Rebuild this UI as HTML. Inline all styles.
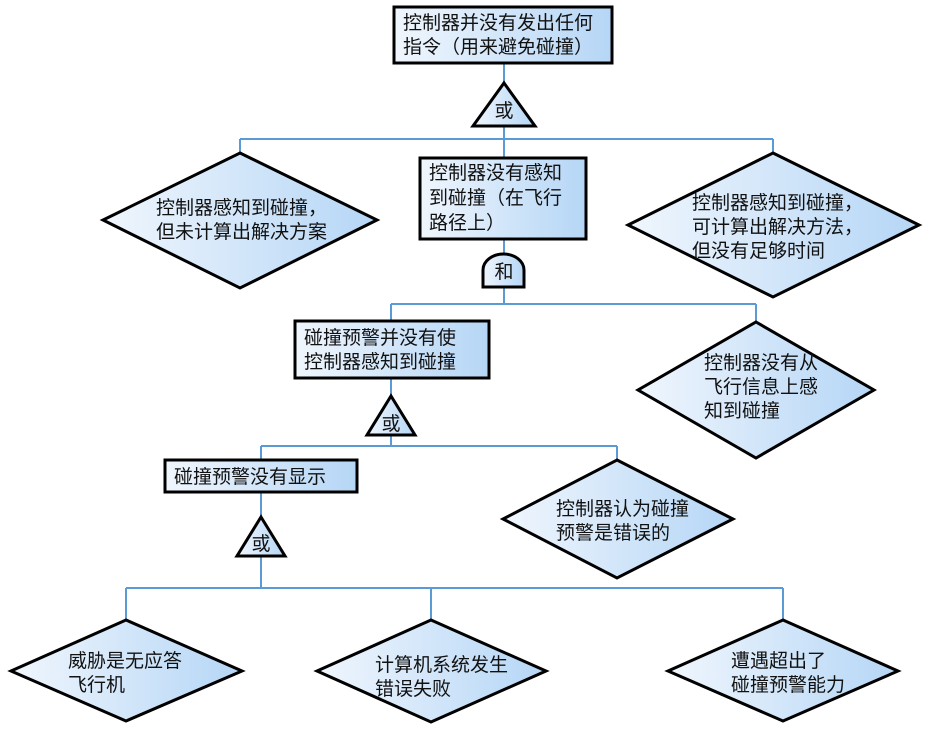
<!DOCTYPE html>
<html><head><meta charset="utf-8"><style>
html,body{margin:0;padding:0;background:#fff;}
svg text{font-family:"Noto Sans CJK SC","Liberation Sans",sans-serif;font-size:19px;fill:#111;}
</style></head><body>
<svg width="933" height="733" viewBox="0 0 933 733" xmlns="http://www.w3.org/2000/svg">
<defs>
<linearGradient id="g" x1="0" y1="0" x2="1" y2="0">
<stop offset="0" stop-color="#f0f6fd"/><stop offset="1" stop-color="#b5d6f6"/>
</linearGradient>
</defs>
<g stroke="#5b9bd5" stroke-width="2" fill="none">
<path d="M504 63V83M504 126V158M240 139H773M240 139V153M773 139V153"/>
<path d="M504 239V256M504 287V304M391 304H756M391 304V321M756 304V322"/>
<path d="M391 378V396M391 435V446M261 446H617M261 446V460M617 446V460"/>
<path d="M261 492V517M261 556V588M126 588H783M126 588V620M431 588V620M783 588V620"/>
</g>
<g stroke="#000" stroke-width="3" fill="url(#g)">
<rect x="394" y="7" width="218" height="56"/>
<polygon points="504,83 535,126 473,126"/>
<polygon points="240,153 377,220 240,288 103,220"/>
<polygon points="773,153 919,225 773,297 628,225"/>
<rect x="420" y="158" width="166" height="81"/>
<path d="M483 287V270A20.5 16 0 0 1 524 270V287Z"/>
<rect x="295" y="321" width="194" height="57"/>
<polygon points="756,322 874,390 756,458 638,390"/>
<polygon points="391,396 415,435 367,435"/>
<rect x="165" y="460" width="192" height="32"/>
<polygon points="617,460 733,519 617,578 503,519"/>
<polygon points="261,517 285,556 237,556"/>
<polygon points="126,620 242,671 126,721 11,671"/>
<polygon points="431,620 546,671 431,722 317,671"/>
<polygon points="783,620 898,671 783,721 668,671"/>
</g>
<text x="403" y="29">控制器并没有发出任何</text>
<text x="403" y="53">指令（用来避免碰撞）</text>
<text x="504" y="117" text-anchor="middle">或</text>
<text x="156" y="214">控制器感知到碰撞，</text>
<text x="156" y="238">但未计算出解决方案</text>
<text x="692" y="209">控制器感知到碰撞，</text>
<text x="692" y="233">可计算出解决方法，</text>
<text x="692" y="257">但没有足够时间</text>
<text x="429" y="179">控制器没有感知</text>
<text x="429" y="204">到碰撞（在飞行</text>
<text x="429" y="229">路径上）</text>
<text x="504" y="278" text-anchor="middle">和</text>
<text x="304" y="344">碰撞预警并没有使</text>
<text x="304" y="368">控制器感知到碰撞</text>
<text x="704" y="369">控制器没有从</text>
<text x="704" y="393">飞行信息上感</text>
<text x="704" y="417">知到碰撞</text>
<text x="391" y="430" text-anchor="middle">或</text>
<text x="174" y="483">碰撞预警没有显示</text>
<text x="556" y="515">控制器认为碰撞</text>
<text x="556" y="539">预警是错误的</text>
<text x="261" y="550" text-anchor="middle">或</text>
<text x="68" y="667">威胁是无应答</text>
<text x="68" y="691">飞行机</text>
<text x="375" y="671">计算机系统发生</text>
<text x="375" y="695">错误失败</text>
<text x="731" y="667">遭遇超出了</text>
<text x="731" y="691">碰撞预警能力</text>
</svg>
</body></html>
